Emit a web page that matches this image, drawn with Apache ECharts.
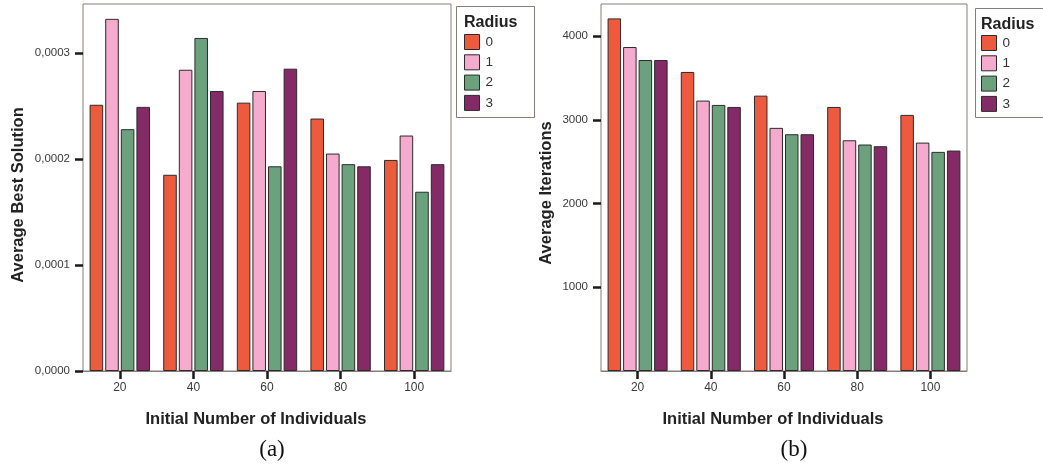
<!DOCTYPE html>
<html>
<head>
<meta charset="utf-8">
<script src="https://cdn.jsdelivr.net/npm/echarts@6/dist/echarts.min.js"></script>
<style>
html,body{margin:0;padding:0;background:#fff;}
#chart{width:1043px;height:468px;}
</style>
</head>
<body>
<div id="chart"></div>
<script>
// ---- DATA ----
const categories = ['20', '40', '60', '80', '100'];
const radiusNames = ['0', '1', '2', '3'];

// (a) Average Best Solution, per radius
const bestR0 = [0.000251, 0.000185, 0.000253, 0.000238, 0.000199];
const bestR1 = [0.000332, 0.000284, 0.000264, 0.000205, 0.000222];
const bestR2 = [0.000228, 0.000314, 0.000193, 0.000195, 0.000169];
const bestR3 = [0.000249, 0.000264, 0.000285, 0.000193, 0.000195];

// (b) Average Iterations, per radius
const iterR0 = [4213, 3573, 3290, 3155, 3060];
const iterR1 = [3871, 3231, 2905, 2757, 2729];
const iterR2 = [3716, 3179, 2829, 2706, 2618];
const iterR3 = [3716, 3155, 2829, 2686, 2634];

const bestTicks = [0, 0.0001, 0.0002, 0.0003];
const iterTicks = [1000, 2000, 3000, 4000];

// ---- STYLE ----
const colors = ['#EE5A3E', '#F4ABCD', '#6BA27D', '#842A66'];
const FONT = '"Liberation Sans", Arial, Helvetica, sans-serif';
const boxColor = '#877c79';

const chart = echarts.init(document.getElementById('chart'), null, {renderer: 'canvas'});

function xAxisCfg(gridIndex) {
  return {
    type: 'category', gridIndex, data: categories,
    axisLine: {show: true, lineStyle: {color: boxColor, width: 1}},
    axisTick: {show: true, alignWithLabel: true, length: 8, lineStyle: {color: '#1a1a1a', width: 2.5}},
    axisLabel: {color: '#3a3a3a', fontSize: 12, fontFamily: FONT, margin: 11},
    name: 'Initial Number of Individuals', nameLocation: 'middle', nameGap: 40,
    nameTextStyle: {fontSize: 16.5, fontWeight: 'bold', color: '#222', fontFamily: FONT, padding: [0, 22, 0, 0]}
  };
}
function yAxisCfg(gridIndex, max, ticks, fmt, name, namePad, nameGap) {
  return {
    type: 'value', gridIndex, min: 0, max,
    splitLine: {show: false},
    axisLine: {show: false},
    axisTick: {show: true, length: 8, customValues: ticks, lineStyle: {color: '#1a1a1a', width: 2.5}},
    axisLabel: {color: '#3a3a3a', fontSize: 11.5, fontFamily: FONT, margin: 13, customValues: ticks, formatter: fmt},
    name, nameLocation: 'middle', nameGap,
    nameTextStyle: {fontSize: 16.5, fontWeight: 'bold', color: '#222', fontFamily: FONT, padding: [0, namePad, 0, 0]}
  };
}

const bestSets = [bestR0, bestR1, bestR2, bestR3];
const iterSets = [iterR0, iterR1, iterR2, iterR3];
const series = [];
radiusNames.forEach((n, i) => {
  series.push({
    name: n, type: 'bar', xAxisIndex: 0, yAxisIndex: 0, data: bestSets[i],
    barCategoryGap: '18%', barGap: '15%',
    itemStyle: {color: colors[i], borderColor: '#2e2a2c', borderWidth: 1}
  });
});
radiusNames.forEach((n, i) => {
  series.push({
    name: n, type: 'bar', xAxisIndex: 1, yAxisIndex: 1, data: iterSets[i],
    barCategoryGap: '18%', barGap: '15%',
    itemStyle: {color: colors[i], borderColor: '#2e2a2c', borderWidth: 1}
  });
});

function legendCfg(left, top) {
  return {
    data: radiusNames, orient: 'vertical', left, top, padding: 0,
    itemWidth: 15, itemHeight: 15, itemGap: 4.3, icon: 'rect',
    itemStyle: {borderColor: '#2e2a2c', borderWidth: 1},
    textStyle: {fontSize: 13.5, color: '#333', fontFamily: FONT, padding: [0, 0, 0, 1]},
    selectedMode: false
  };
}

const option = {
  animation: false,
  backgroundColor: '#fff',
  color: colors,
  grid: [
    {left: 83, top: 4, width: 368, height: 367, show: true, borderColor: boxColor, borderWidth: 1, containLabel: false},
    {left: 601, top: 4, width: 366, height: 367, show: true, borderColor: boxColor, borderWidth: 1, containLabel: false}
  ],
  xAxis: [xAxisCfg(0), xAxisCfg(1)],
  yAxis: [
    yAxisCfg(0, 0.000346, bestTicks, v => v.toFixed(4).replace('.', ','), 'Average Best Solution', 15, 56),
    yAxisCfg(1, 4385, iterTicks, v => String(v), 'Average Iterations', 11, 46)
  ],
  legend: [legendCfg(464, 34), legendCfg(981, 35)],
  series,
  graphic: [
    {type: 'rect', left: 454, top: 4, shape: {width: 78, height: 111}, style: {fill: 'none', stroke: boxColor, lineWidth: 1}},
    {type: 'rect', left: 973, top: 6, shape: {width: 69, height: 109}, style: {fill: 'none', stroke: boxColor, lineWidth: 1}},
    {type: 'text', left: 464, top: 15, style: {text: 'Radius', font: 'bold 16px ' + FONT, fill: '#222'}},
    {type: 'text', left: 981, top: 17, style: {text: 'Radius', font: 'bold 16px ' + FONT, fill: '#222'}},
    {type: 'text', x: 272, y: 450, style: {text: '(a)', font: '23px "Liberation Serif", "Times New Roman", serif', fill: '#111', textAlign: 'center', textVerticalAlign: 'middle'}},
    {type: 'text', x: 794, y: 450, style: {text: '(b)', font: '23px "Liberation Serif", "Times New Roman", serif', fill: '#111', textAlign: 'center', textVerticalAlign: 'middle'}}
  ]
};
chart.setOption(option);
</script>
</body>
</html>
